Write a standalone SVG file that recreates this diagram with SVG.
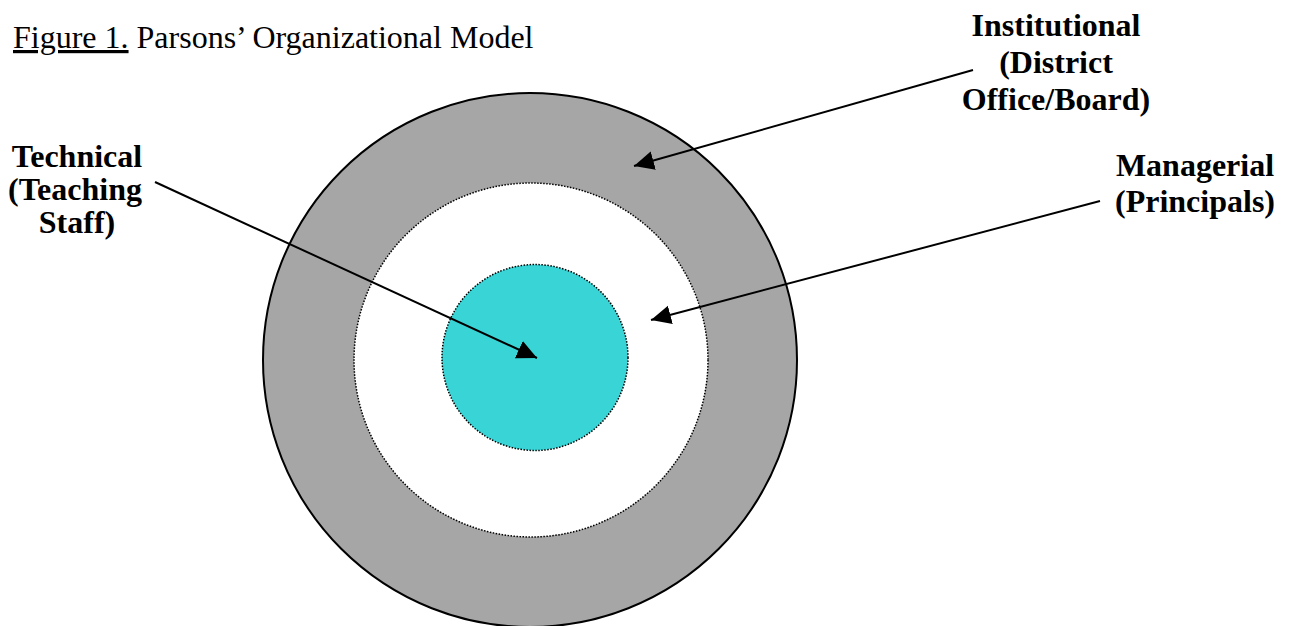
<svg xmlns="http://www.w3.org/2000/svg" width="1290" height="626" viewBox="0 0 1290 626">
<style>
.lbl{font-family:"Liberation Serif","Times New Roman",serif;font-weight:bold;font-size:32px;fill:#000;text-anchor:middle}
.title{font-family:"Liberation Serif","Times New Roman",serif;font-size:32px;fill:#000}
.arrow{stroke:#000;stroke-width:2;fill:none;marker-end:url(#ah)}
.dotted{stroke:#000;stroke-width:1.5;stroke-dasharray:1.5 1.5}
</style>
<defs>
<marker id="ah" markerUnits="userSpaceOnUse" markerWidth="22" markerHeight="20" refX="20" refY="9.5" orient="auto">
<path d="M0,0 L20,9.5 L0,19 z" fill="#000"/>
</marker>
</defs>
<rect width="1290" height="626" fill="#fff"/>
<g id="title">
<text class="title" x="13" y="48"><tspan text-decoration="underline">Figure 1.</tspan> Parsons’ Organizational Model</text>
</g>
<g id="institutional-ring">
<circle cx="530" cy="360" r="267" fill="#a6a6a6" stroke="#000" stroke-width="2"/>
</g>
<g id="managerial-ring">
<circle class="dotted" cx="531" cy="360" r="177" fill="#fff"/>
</g>
<g id="technical-core">
<circle class="dotted" cx="535" cy="357.5" r="93" fill="#38d4d6"/>
</g>
<g id="label-institutional">
<text class="lbl" x="1056" y="36">Institutional</text>
<text class="lbl" x="1056" y="73">(District</text>
<text class="lbl" x="1056" y="110">Office/Board)</text>
</g>
<g id="label-managerial">
<text class="lbl" x="1195" y="176">Managerial</text>
<text class="lbl" x="1195" y="212">(Principals)</text>
</g>
<g id="label-technical">
<text class="lbl" x="77" y="167">Technical</text>
<text class="lbl" x="75" y="200">(Teaching</text>
<text class="lbl" x="77" y="233">Staff)</text>
</g>
<g id="connectors">
<line class="arrow" x1="155" y1="182" x2="537" y2="358"/>
<line class="arrow" x1="973" y1="70" x2="634" y2="166"/>
<line class="arrow" x1="1100" y1="201" x2="651" y2="320"/>
</g>
</svg>
